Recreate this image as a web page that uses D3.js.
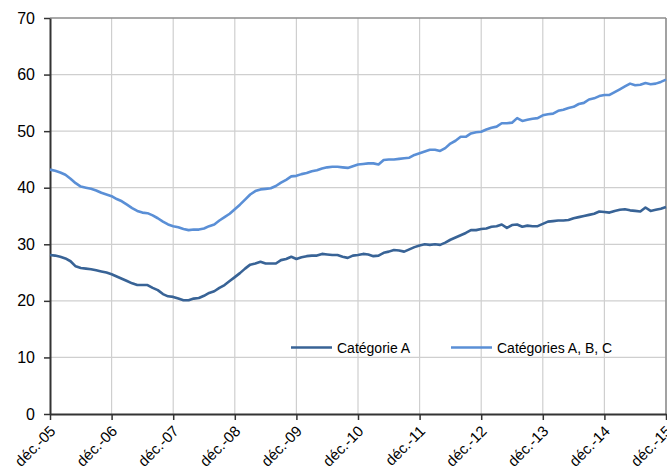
<!DOCTYPE html>
<html>
<head>
<meta charset="utf-8">
<script src="https://cdn.jsdelivr.net/npm/d3@7"></script>
<style>
  body { margin: 0; background: #fff; }
  svg { display: block; font-family: "Liberation Sans", Arial, sans-serif; }
</style>
</head>
<body>
<svg id="chart" width="667" height="474"></svg>
<script>
// monthly values, déc. 2005 -> déc. 2015
const catA = [
  28.1, 28.0, 27.8, 27.5, 27.0, 26.1, 25.8, 25.7, 25.6, 25.4, 25.2, 25.0,
  24.7, 24.3, 23.9, 23.5, 23.1, 22.8, 22.8, 22.8, 22.3, 21.9, 21.2, 20.8,
  20.7, 20.4, 20.1, 20.1, 20.4, 20.5, 20.9, 21.4, 21.7, 22.3, 22.8, 23.5,
  24.2, 24.9, 25.7, 26.4, 26.6, 26.9, 26.6, 26.6, 26.6, 27.2, 27.4, 27.8,
  27.4, 27.7, 27.9, 28.0, 28.0, 28.3, 28.2, 28.1, 28.1, 27.8, 27.6, 28.0,
  28.1, 28.3, 28.2, 27.9, 28.0, 28.5, 28.7, 29.0, 28.9, 28.7, 29.1, 29.5,
  29.8, 30.0, 29.9, 30.0, 29.9, 30.3, 30.8, 31.2, 31.6, 32.0, 32.5, 32.5,
  32.7, 32.8, 33.1, 33.2, 33.5, 32.9, 33.4, 33.5, 33.1, 33.3, 33.2, 33.2,
  33.6, 34.0, 34.1, 34.2, 34.2, 34.3, 34.6, 34.8, 35.0, 35.2, 35.4, 35.8,
  35.7, 35.6, 35.9, 36.1, 36.2, 36.0, 35.9, 35.8, 36.5, 35.9, 36.1, 36.3,
  36.6
];
const catABC = [
  43.2, 43.0, 42.7, 42.3, 41.6, 40.8, 40.2, 40.0, 39.8, 39.5, 39.1, 38.8,
  38.5, 38.0, 37.6, 37.0, 36.4, 35.9, 35.6, 35.5, 35.1, 34.6, 34.0, 33.5,
  33.2, 33.0, 32.7, 32.5, 32.6, 32.6, 32.8, 33.2, 33.5, 34.2, 34.8, 35.4,
  36.2, 37.0, 37.9, 38.8, 39.4, 39.7, 39.8, 39.9, 40.3, 40.9, 41.4, 42.0,
  42.1, 42.4, 42.6, 42.9, 43.1, 43.4, 43.6, 43.7, 43.7, 43.6, 43.5, 43.8,
  44.1, 44.2, 44.3, 44.3, 44.1, 44.9, 45.0, 45.0, 45.1, 45.2, 45.3, 45.8,
  46.1, 46.4, 46.7, 46.7, 46.5, 47.0, 47.8, 48.3, 49.0, 49.0, 49.6, 49.8,
  49.9, 50.3, 50.6, 50.8, 51.4, 51.4, 51.5, 52.3, 51.8, 52.0, 52.2, 52.3,
  52.8, 53.0, 53.1, 53.6, 53.8, 54.1, 54.3, 54.8, 55.0, 55.6, 55.8, 56.2,
  56.4, 56.4, 56.9, 57.4, 57.9, 58.4, 58.1, 58.2, 58.5, 58.3, 58.4, 58.7,
  59.1
];
const yearLabels = ["déc.-05", "déc.-06", "déc.-07", "déc.-08", "déc.-09", "déc.-10",
  "déc.-11", "déc.-12", "déc.-13", "déc.-14", "déc.-15"];
const yTicks = [0, 10, 20, 30, 40, 50, 60, 70];
const seriesNames = ["Catégorie A", "Catégories A, B, C"];
const seriesColors = ["#386396", "#5a8fd6"];

const svg = d3.select("#chart");
const margin = { top: 18, right: 1, bottom: 60, left: 50 };
const W = 667, H = 474;
const innerW = W - margin.left - margin.right;   // 616
const innerH = H - margin.top - margin.bottom;   // ~396

const x = d3.scaleLinear().domain([0, catA.length - 1]).range([margin.left, margin.left + innerW]);
const y = d3.scaleLinear().domain([0, 70]).range([margin.top + innerH, margin.top]);

const yearIdx = yearLabels.map((d, i) => i * 12);

// grid
const grid = svg.append("g").attr("class", "grid");
grid.selectAll(".hg").data(yTicks.filter(d => d > 0 && d < 70)).join("line")
  .attr("x1", x.range()[0]).attr("x2", x.range()[1])
  .attr("y1", d => y(d)).attr("y2", d => y(d))
  .attr("stroke", "#cfcfcf").attr("stroke-width", 1.2);
grid.selectAll(".vg").data(yearIdx.slice(1)).join("line")
  .attr("x1", d => x(d)).attr("x2", d => x(d))
  .attr("y1", y(0)).attr("y2", y(70))
  .attr("stroke", "#cfcfcf").attr("stroke-width", 1.2);

// frame top/right
svg.append("line").attr("x1", x.range()[0]).attr("x2", x.range()[1])
  .attr("y1", y(70)).attr("y2", y(70)).attr("stroke", "#8c8c8c").attr("stroke-width", 1.5);
svg.append("line").attr("x1", x.range()[1]).attr("x2", x.range()[1])
  .attr("y1", y(0)).attr("y2", y(70)).attr("stroke", "#8c8c8c").attr("stroke-width", 1.5);

// y axis
const yAxis = svg.append("g")
  .attr("transform", `translate(${margin.left},0)`)
  .call(d3.axisLeft(y).tickValues(yTicks).tickSize(6).tickPadding(9).tickSizeOuter(0));
yAxis.select(".domain").attr("stroke", "#333").attr("stroke-width", 2);
yAxis.selectAll(".tick line").attr("stroke", "#333").attr("stroke-width", 1.5);
yAxis.selectAll("text").attr("font-size", 16).attr("fill", "#000")
  .attr("font-family", "Liberation Sans, Arial, sans-serif");

// x axis
const xAxis = svg.append("g")
  .attr("transform", `translate(0,${y(0)})`)
  .call(d3.axisBottom(x).tickValues(yearIdx).tickSize(6).tickSizeOuter(0)
    .tickFormat((d, i) => yearLabels[i]));
xAxis.select(".domain").attr("stroke", "#333").attr("stroke-width", 2);
xAxis.selectAll(".tick line").attr("stroke", "#333").attr("stroke-width", 1.5);
xAxis.selectAll("text")
  .attr("font-size", 15).attr("fill", "#000")
  .attr("font-family", "Liberation Sans, Arial, sans-serif")
  .attr("text-anchor", "end")
  .attr("dy", null)
  .attr("y", 0)
  .attr("transform", "translate(6,18) rotate(-45)");

// lines
const line = d3.line().x((d, i) => x(i)).y(d => y(d));
[catA, catABC].forEach((s, k) => {
  svg.append("path").datum(s)
    .attr("fill", "none")
    .attr("stroke", seriesColors[k])
    .attr("stroke-width", 2.6)
    .attr("stroke-linejoin", "round")
    .attr("d", line);
});

// legend
const legendPos = [{ x: 291, y: 347.5 }, { x: 451, y: 347.5 }];
const legend = svg.append("g").attr("class", "legend");
seriesNames.forEach((name, k) => {
  const p = legendPos[k];
  legend.append("line")
    .attr("x1", p.x).attr("x2", p.x + 41)
    .attr("y1", p.y).attr("y2", p.y)
    .attr("stroke", seriesColors[k]).attr("stroke-width", 2.6);
  legend.append("text")
    .attr("x", p.x + 46).attr("y", p.y + 5)
    .attr("font-size", 14).attr("fill", "#000")
    .text(name);
});
</script>
</body>
</html>
